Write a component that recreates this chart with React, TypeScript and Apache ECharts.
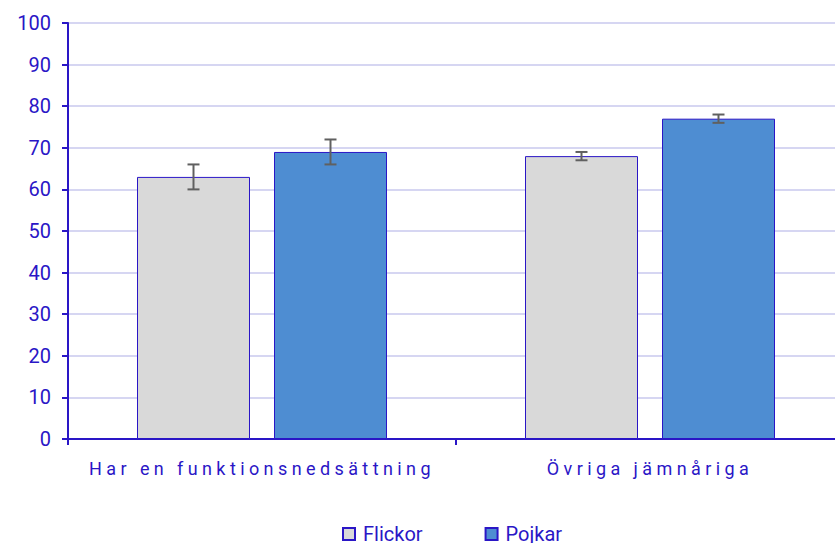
import React, { useEffect, useRef } from "react";
import * as echarts from "echarts";

const categories = ["Har en funktionsnedsättning", "Övriga jämnåriga"];
const seriesNames = ["Flickor", "Pojkar"];
const flickorValues = [63, 68];
const pojkarValues = [69, 77];
const flickorLow = [60, 67];
const flickorHigh = [66, 69];
const pojkarLow = [66, 76];
const pojkarHigh = [72, 78];

const TEXT = "#2a16c6";
const BAR_W = 113;
const GAP = 24;

export default function App() {
  const ref = useRef<HTMLDivElement>(null);
  useEffect(() => {
    document.body.style.margin = "0";
    if (!ref.current) return;
    const chart = echarts.init(ref.current, undefined, { renderer: "svg" });

    const errorSeries = (name: string, low: number[], high: number[], dir: number) => ({
      type: "custom",
      name,
      z: 10,
      silent: true,
      data: low.map((l, i) => [i, l, high[i]]),
      encode: { x: 0, y: [1, 2] },
      renderItem: (params: any, api: any) => {
        const idx = api.value(0);
        const lo = api.coord([idx, api.value(1)]);
        const hi = api.coord([idx, api.value(2)]);
        const x = lo[0] + dir * (BAR_W + GAP) / 2;
        const cap = 6;
        const style = { stroke: "#606060", lineWidth: 2 };
        return {
          type: "group",
          children: [
            { type: "line", shape: { x1: x, y1: lo[1], x2: x, y2: hi[1] }, style },
            { type: "line", shape: { x1: x - cap, y1: lo[1], x2: x + cap, y2: lo[1] }, style },
            { type: "line", shape: { x1: x - cap, y1: hi[1], x2: x + cap, y2: hi[1] }, style },
          ],
        };
      },
    });

    chart.setOption({
      animation: false,
      textStyle: { fontFamily: "Roboto" },
      grid: { left: 68, right: 0, top: 23, bottom: 104 },
      legend: {
        data: seriesNames,
        left: 337,
        top: 519,
        icon: "rect",
        itemWidth: 12,
        itemHeight: 12,
        itemGap: 62,
        textStyle: {
          color: TEXT,
          fontSize: 20,
          lineHeight: 20,
          fontFamily: "Roboto",
          padding: [0, 0, 0, 3],
        },
      },
      xAxis: {
        type: "category",
        data: categories,
        axisLine: { lineStyle: { color: TEXT, width: 2 } },
        axisTick: { show: true, length: 6, lineStyle: { color: TEXT, width: 2 } },
        axisLabel: { color: TEXT, fontSize: 18, margin: 20, fontFamily: "Roboto" },
      },
      yAxis: {
        type: "value",
        min: 0,
        max: 100,
        interval: 10,
        axisLine: { show: true, lineStyle: { color: TEXT, width: 2 } },
        axisTick: { show: true, length: 6, lineStyle: { color: TEXT, width: 2 } },
        axisLabel: { color: TEXT, fontSize: 20, margin: 17, fontFamily: "Roboto" },
        splitLine: { lineStyle: { color: "#d6d6f2", width: 2 } },
      },
      series: [
        {
          type: "bar",
          name: "Flickor",
          data: flickorValues,
          barWidth: BAR_W,
          barGap: (GAP / BAR_W) * 100 + "%",
          itemStyle: { color: "#d9d9d9", borderColor: TEXT, borderWidth: 1 },
        },
        {
          type: "bar",
          name: "Pojkar",
          data: pojkarValues,
          barWidth: BAR_W,
          itemStyle: { color: "#4e8dd2", borderColor: TEXT, borderWidth: 1 },
        },
        errorSeries("Flickor KI", flickorLow, flickorHigh, -1),
        errorSeries("Pojkar KI", pojkarLow, pojkarHigh, 1),
      ],
    });

    const applySpacing = () => {
      if (!ref.current) return;
      ref.current.querySelectorAll("text").forEach((t) => {
        if (categories.includes((t.textContent || "").trim())) {
          (t as SVGTextElement).style.letterSpacing = "4.4px";
        }
      });
    };
    applySpacing();
    chart.on("finished", applySpacing);
    const tm = setTimeout(applySpacing, 50);

    return () => {
      clearTimeout(tm);
      chart.dispose();
    };
  }, []);

  return (
    <div style={{ width: 835, height: 543, overflow: "hidden", position: "relative" }}>
      <div ref={ref} style={{ width: 844, height: 543 }} />
    </div>
  );
}
